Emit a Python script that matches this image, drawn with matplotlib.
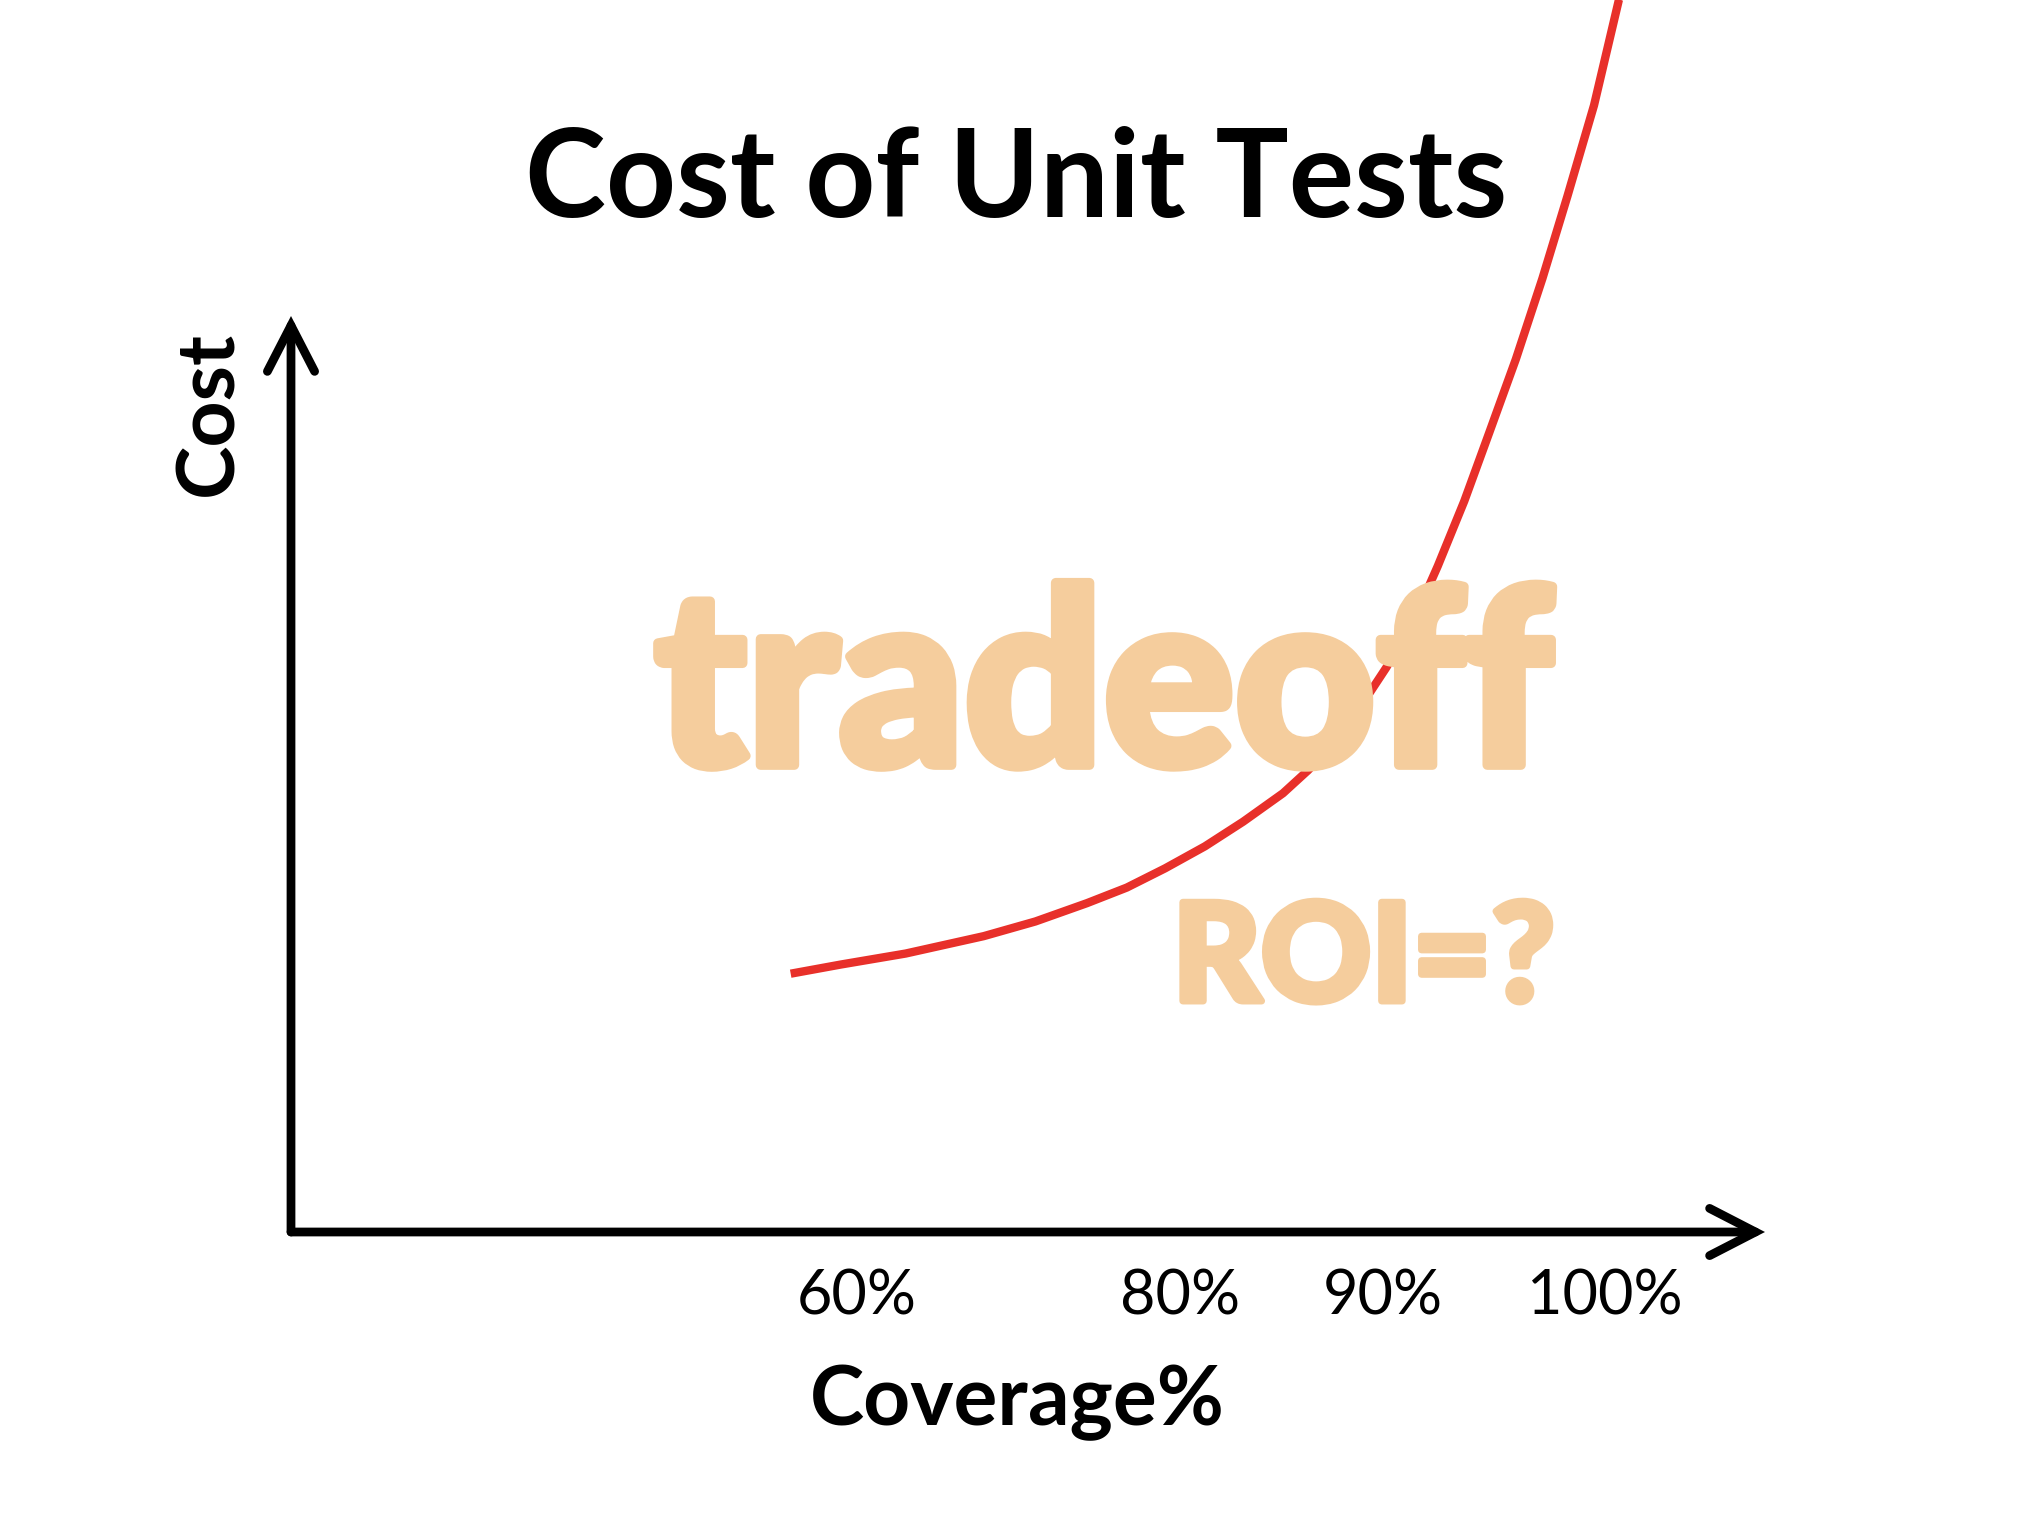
import matplotlib
matplotlib.use("Agg")
import matplotlib.pyplot as plt
import matplotlib.patheffects as pe
from matplotlib.patches import FancyArrowPatch

# Schematic axes: both run 0..100 (position along the drawn arrow)
curve_x = [33.9, 37.3, 41.7, 47.0, 50.5, 54.0, 56.7, 59.3, 62.0, 64.6, 67.3, 69.0,
           70.8, 72.5, 74.3, 76.1, 77.8, 79.6, 81.3, 83.1, 84.9, 86.6, 88.4, 90.1, 90.7]
curve_y = [28.2, 29.2, 30.4, 32.3, 33.9, 35.9, 37.6, 39.7, 42.1, 44.8, 47.9, 50.4,
           53.5, 57.2, 61.6, 66.5, 72.7, 79.8, 87.3, 95.3, 104.1, 113.1, 123.0, 134.6, 136.7]
tick_pos = [38.4, 60.3, 74.1, 89.1]
tick_labels = ["60%", "80%", "90%", "100%"]

title = "Cost of Unit Tests"
x_label = "Coverage%"
y_label = "Cost"
big_note = "tradeoff"
small_note = "ROI=?"

RED = "#E8302A"
PEACH = "#F5CD9D"
FONT = "Lato"

fig = plt.figure(figsize=(20.26, 15.34), dpi=100)
fig.patch.set_facecolor("white")
ax = fig.add_axes([291 / 2026, 1 - 1232 / 1534, (1765 - 291) / 2026, (1232 - 316) / 1534])
ax.set_xlim(0, 100)
ax.set_ylim(0, 100)
ax.axis("off")

# axis arrows
for end in [(100, 0), (0, 100)]:
    arrow = FancyArrowPatch((0, 0), end, arrowstyle="->,head_length=3.3,head_width=1.7",
                            mutation_scale=10, lw=6.3, color="black",
                            shrinkA=0, shrinkB=0, capstyle="round", joinstyle="miter",
                            clip_on=False, zorder=3)
    ax.add_patch(arrow)

# cost curve
ax.plot(curve_x, curve_y, color=RED, lw=6, solid_capstyle="butt", solid_joinstyle="round",
        clip_on=False, zorder=2)

# peach annotations over the curve
ax.text(100 * (1553 - 291) / 1474, 100 * (1232 - 765) / 916, big_note, ha="right", va="baseline",
        fontsize=176, fontweight="black", family=FONT, color=PEACH, zorder=4,
        path_effects=[pe.withStroke(linewidth=7, foreground=PEACH)])
ax.text(100 * (1555 - 291) / 1474, 100 * (1232 - 1001) / 916, small_note, ha="right", va="baseline",
        fontsize=98, fontweight="black", family=FONT, color=PEACH, zorder=4,
        path_effects=[pe.withStroke(linewidth=5, foreground=PEACH)])

# tick labels
for pos, lab in zip(tick_pos, tick_labels):
    ax.text(pos, -9.0, lab, ha="center", va="baseline", fontsize=44, family=FONT, color="black")

fig.text(1016 / 2026, 1 - 217 / 1534, title, ha="center", va="baseline",
         fontsize=88, fontweight="bold", family=FONT, color="black")
fig.text(1017 / 2026, 1 - 1425 / 1534, x_label, ha="center", va="baseline",
         fontsize=59, fontweight="bold", family=FONT, color="black")
fig.text(246 / 2026, 1 - 413 / 1534, y_label, ha="right", va="center", rotation=90,
         fontsize=58, fontweight="bold", family=FONT, color="black")

fig.savefig("out.png", dpi=100, facecolor="white")
plt.close(fig)
